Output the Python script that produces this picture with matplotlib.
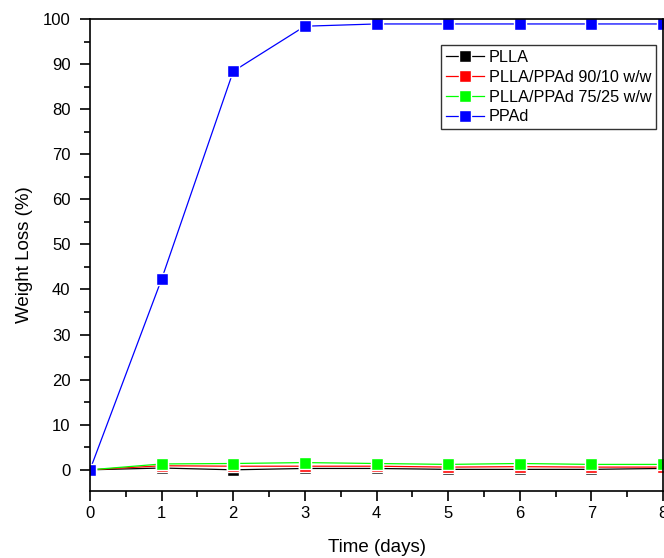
import matplotlib
matplotlib.use("Agg")
import matplotlib.pyplot as plt
from matplotlib.ticker import MultipleLocator

plt.rcParams["font.family"] = ["Liberation Sans", "DejaVu Sans"]

# -----------------------------
# Data
# -----------------------------
days = [0, 1, 2, 3, 4, 5, 6, 7, 8]
plla = [0.0, 0.4, 0.0, 0.3, 0.3, 0.1, 0.1, 0.1, 0.3]
plla_90_10 = [0.0, 0.9, 0.8, 0.8, 0.8, 0.6, 0.7, 0.6, 0.6]
plla_75_25 = [0.0, 1.3, 1.4, 1.6, 1.4, 1.2, 1.4, 1.2, 1.2]
ppad = [0.0, 42.3, 88.4, 98.4, 98.9, 98.9, 98.9, 98.9, 98.9]

series = [
    ("PLLA", plla, "#000000"),
    ("PLLA/PPAd 90/10 w/w", plla_90_10, "#ff0000"),
    ("PLLA/PPAd 75/25 w/w", plla_75_25, "#00ff00"),
    ("PPAd", ppad, "#0000ff"),
]

fig = plt.figure(figsize=(6.64, 5.58), dpi=100)
ax = fig.add_axes([90 / 664, 1 - 491 / 558, 573 / 664, (491 - 19) / 558])

for label, vals, col in series:
    ax.plot(days, vals, color=col, lw=0.9, marker="s", markersize=8,
            markerfacecolor=col, markeredgecolor="white", markeredgewidth=1.0,
            label=label)

ax.set_xlim(0, 8)
ax.set_ylim(-4.7, 100)
ax.xaxis.set_major_locator(MultipleLocator(1))
ax.xaxis.set_minor_locator(MultipleLocator(0.5))
ax.yaxis.set_major_locator(MultipleLocator(10))
ax.yaxis.set_minor_locator(MultipleLocator(5))

ax.tick_params(which="major", direction="out", length=7, width=1.2, labelsize=12)
ax.tick_params(axis="y", which="major", pad=7)
ax.tick_params(axis="x", which="major", pad=4)
ax.tick_params(which="minor", direction="out", length=4, width=1.2)
for s in ax.spines.values():
    s.set_linewidth(1.2)

ax.set_xlabel("Time (days)", fontsize=13.5, labelpad=13)
ax.set_ylabel("Weight Loss (%)", fontsize=13.5, labelpad=7)

leg = ax.legend(loc="upper right", bbox_to_anchor=(0.988, 0.945), fontsize=11.7,
                frameon=True, fancybox=False, edgecolor="black",
                handlelength=2.3, handletextpad=0.3, labelspacing=0.3,
                borderpad=0.3, borderaxespad=0)
leg.get_frame().set_linewidth(1.0)

fig.savefig("out.png", dpi=100)
